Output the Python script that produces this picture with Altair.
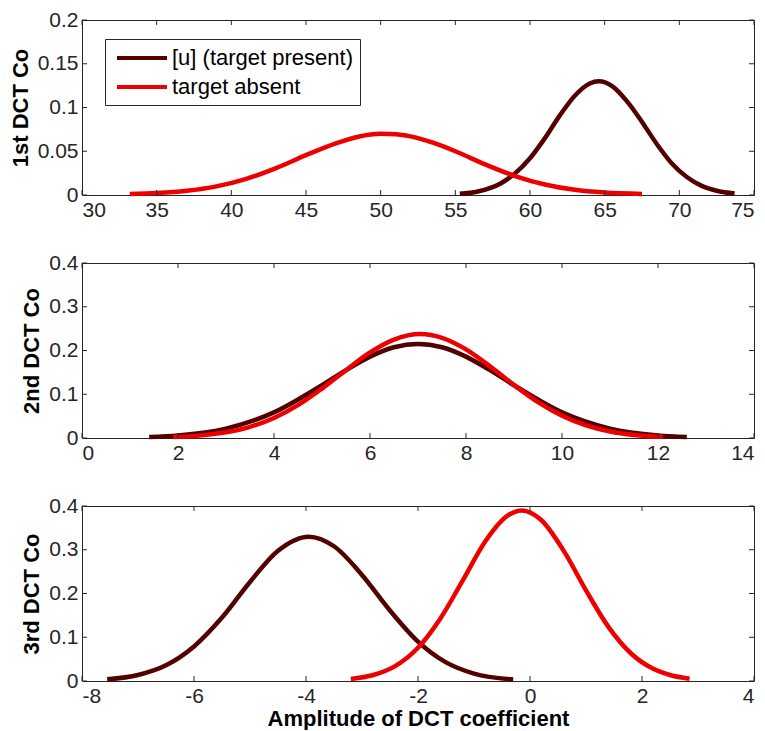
import altair as alt
import pandas as pd

PRESENT = "[u] (target present)"
ABSENT = "target absent"
DARK = "#520000"
RED = "#ee0000"
INK = "#262626"
FONT = "Liberation Sans"

W, H = 672, 175

# ---- 1st DCT coefficient ----
c1_present_x = [55.3, 56.5, 58, 59, 60, 61, 62, 63, 64, 64.6, 65.5, 66.5, 67.5, 68.5, 69.5, 70.5, 71.5, 72.5, 73.7]
c1_present_y = [0.0013, 0.004, 0.0129, 0.0247, 0.042, 0.065, 0.091, 0.1135, 0.1275, 0.13, 0.1245, 0.107, 0.0835,
                0.058, 0.036, 0.0205, 0.0104, 0.0048, 0.0016]
c1_absent_x = [33.2, 35, 37, 39, 41, 43, 45, 47, 48.5, 50, 51, 52, 53.5, 55, 57, 59, 61, 63, 65, 67.5]
c1_absent_y = [0.0012, 0.0022, 0.0048, 0.0099, 0.0185, 0.0308, 0.0455, 0.059, 0.0666, 0.0699, 0.0695, 0.067,
               0.0598, 0.050, 0.035, 0.0217, 0.012, 0.0059, 0.0028, 0.0012]

# ---- 2nd DCT coefficient ----
c2_present_x = [1.4, 2, 3, 4, 5, 5.5, 6, 6.5, 7, 7.5, 8, 8.5, 9, 10, 11, 12, 12.6]
c2_present_y = [0.0023, 0.0058, 0.0213, 0.0585, 0.1206, 0.155, 0.186, 0.2075, 0.215, 0.2075, 0.186, 0.155,
                0.1206, 0.0585, 0.0213, 0.0058, 0.0023]
c2_absent_x = [1.9, 2.5, 3, 3.5, 4, 4.5, 5, 5.5, 6, 6.5, 7.05, 7.5, 8, 8.5, 9, 9.5, 10, 10.5, 11, 11.5, 12.1]
c2_absent_y = [0.0021, 0.006, 0.013, 0.0255, 0.0458, 0.075, 0.113, 0.155, 0.1955, 0.225, 0.2375, 0.229, 0.2025,
               0.1637, 0.121, 0.082, 0.051, 0.029, 0.015, 0.0071, 0.0026]

# ---- 3rd DCT coefficient ----
c3_present_x = [-7.55, -7, -6.5, -6, -5.5, -5, -4.5, -3.95, -3.5, -3, -2.5, -2, -1.5, -1, -0.3]
c3_present_y = [0.0039, 0.0137, 0.0358, 0.079, 0.145, 0.2264, 0.2977, 0.33, 0.308, 0.2425, 0.161, 0.09,
                0.0425, 0.0169, 0.0035]
c3_absent_x = [-3.2, -2.8, -2.4, -2, -1.6, -1.2, -0.8, -0.4, -0.15, 0.2, 0.6, 1.0, 1.4, 1.8, 2.2, 2.5, 2.85]
c3_absent_y = [0.0046, 0.0137, 0.0347, 0.076, 0.143, 0.230, 0.319, 0.378, 0.39, 0.368, 0.298, 0.2073, 0.1237,
               0.0634, 0.0278, 0.0137, 0.0053]

ticks_x1 = [30, 35, 40, 45, 50, 55, 60, 65, 70, 75]
ticks_y1 = [0, 0.05, 0.1, 0.15, 0.2]
ticks_x2 = [0, 2, 4, 6, 8, 10, 12, 14]
ticks_y2 = [0, 0.1, 0.2, 0.3, 0.4]
ticks_x3 = [-8, -6, -4, -2, 0, 2, 4]
ticks_y3 = [0, 0.1, 0.2, 0.3, 0.4]

TICK_LEN = 5


def frame(px, py, ax, ay):
    rows = [{"x": x, "y": y, "series": PRESENT, "k": i} for i, (x, y) in enumerate(zip(px, py))]
    rows += [{"x": x, "y": y, "series": ABSENT, "k": i} for i, (x, y) in enumerate(zip(ax, ay))]
    return pd.DataFrame(rows)


def panel(df, xdom, xticks, ydom, yticks, ytitle, xtitle=None, show_legend=False):
    xs = alt.Scale(domain=xdom, nice=False, zero=False)
    ys = alt.Scale(domain=ydom, nice=False, zero=False)
    cs = alt.Scale(domain=[PRESENT, ABSENT], range=[DARK, RED])
    x_axis = alt.Axis(values=xticks, tickSize=0, domain=False, grid=False,
                      labelPadding=4, labelExpr="'' + datum.value", titlePadding=2)
    y_axis = alt.Axis(values=yticks, tickSize=0, domain=False, grid=False,
                      labelPadding=4, labelExpr="'' + datum.value", titlePadding=5)
    if show_legend:
        legend = alt.Legend(
            title=None, orient="none", legendX=23, legendY=19,
            symbolType="M-2.5,0H2.5", symbolSize=400, symbolStrokeWidth=4,
            symbolOffset=18, labelOffset=18, labelLimit=400,
            labelFont=FONT, labelFontSize=22, labelColor="black",
            strokeColor=INK, fillColor="white", padding=7, rowPadding=6,
        )
    else:
        legend = None

    curves = alt.Chart(df).mark_line(strokeWidth=4.5, interpolate="monotone").encode(
        x=alt.X("x:Q", scale=xs, title=xtitle, axis=x_axis),
        y=alt.Y("y:Q", scale=ys, title=ytitle, axis=y_axis),
        color=alt.Color("series:N", scale=cs, legend=legend, sort=[PRESENT, ABSENT]),
        order="k:Q",
    )

    # inward tick marks on all four sides of the frame
    xt = alt.Chart(pd.DataFrame({"t": xticks})).mark_rule(color=INK, strokeWidth=1)
    yt = alt.Chart(pd.DataFrame({"t": yticks})).mark_rule(color=INK, strokeWidth=1)
    xpos = alt.X("t:Q", scale=xs, title=xtitle, axis=x_axis)
    ypos = alt.Y("t:Q", scale=ys, title=ytitle, axis=y_axis)
    bottom_ticks = xt.encode(x=xpos, y=alt.value(H), y2=alt.value(H - TICK_LEN))
    top_ticks = xt.encode(x=xpos, y=alt.value(0), y2=alt.value(TICK_LEN))
    left_ticks = yt.encode(y=ypos, x=alt.value(0), x2=alt.value(TICK_LEN))
    right_ticks = yt.encode(y=ypos, x=alt.value(W), x2=alt.value(W - TICK_LEN))

    return alt.layer(curves, bottom_ticks, top_ticks, left_ticks, right_ticks).properties(
        width=W, height=H
    )


p1 = panel(frame(c1_present_x, c1_present_y, c1_absent_x, c1_absent_y),
           [30, 75], ticks_x1, [0, 0.2], ticks_y1, "1st DCT Co", show_legend=True)
p2 = panel(frame(c2_present_x, c2_present_y, c2_absent_x, c2_absent_y),
           [0, 14], ticks_x2, [0, 0.4], ticks_y2, "2nd DCT Co")
p3 = panel(frame(c3_present_x, c3_present_y, c3_absent_x, c3_absent_y),
           [-8, 4], ticks_x3, [0, 0.4], ticks_y3, "3rd DCT Co",
           xtitle="Amplitude of DCT coefficient")

chart = alt.vconcat(p1, p2, p3, spacing=68, bounds="flush").resolve_scale(
    color="independent"
).properties(
    padding={"left": 8, "top": 8, "right": 0, "bottom": 0},
    background="white",
).configure_view(
    stroke=INK, strokeWidth=1
).configure_axis(
    labelFont=FONT, labelFontSize=21, labelColor=INK,
    titleFont=FONT, titleFontSize=22, titleFontWeight="bold", titleColor="black",
)

chart.save("out.html", embed_options={"renderer": "svg", "actions": False})
